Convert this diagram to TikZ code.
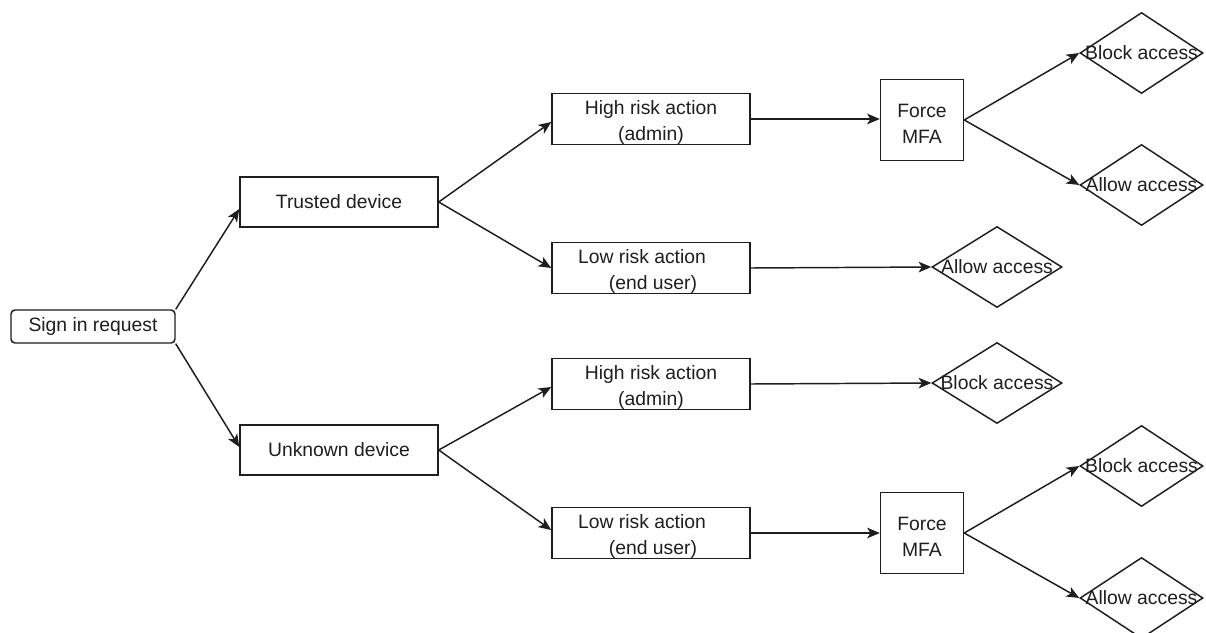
\documentclass[tikz,border=0pt]{standalone}
\usepackage{fontspec}
\setmainfont{Liberation Sans}
\usetikzlibrary{shapes.geometric,arrows.meta,calc}
\definecolor{ink}{HTML}{1E1E1E}
% taller first line so two-line labels sit a little lower in their boxes
\newcommand{\tallline}{\rule{0pt}{16pt}}

\begin{document}
\begin{tikzpicture}[x=0.75pt,y=-0.75pt,
  every node/.style={font=\fontsize{14.5}{19.5}\selectfont, text=ink, inner sep=0pt},
  box/.style={draw=ink, line width=1.1pt, minimum width=148.5pt, minimum height=37.5pt, align=center},
  startbox/.style={draw=ink, line width=1.1pt, rounded corners=3pt, minimum width=123pt, minimum height=24.75pt},
  mfabox/.style={draw=ink, line width=1.1pt, minimum width=62.25pt, minimum height=60.75pt, align=center},
  decision/.style={diamond, draw=ink, line width=1.1pt, minimum width=92.25pt, minimum height=60.75pt},
  widedecision/.style={decision, minimum width=97.5pt},
  flow/.style={draw=ink, line width=1.1pt, -{Stealth[length=9.5pt,width=8pt,inset=2.5pt]}}]

\fill[white] (0,0) rectangle (1206,632);
\clip (0,0) rectangle (1206,632);

% entry point and device branches
\node[startbox] (sign) at (93,326.5) {Sign in request};
\node[box] (trusted) at (339,202) {Trusted device};
\node[box] (unknown) at (339,450) {Unknown device};

% trusted device branch
\node[box] (hi1) at (651,119) {\tallline High risk action\\(admin)};
\node[box] (lo1) at (651,268) {\tallline\hspace*{-13.5pt}Low risk action\\\hspace*{3pt}(end user)};
\node[mfabox] (mfa1) at (922,120) {\tallline Force\\MFA};
\node[decision] (blk1) at (1141.5,53) {};
\node (blk1t) at (blk1) {Block access};
\node[decision] (alw1) at (1141.5,185) {};
\node (alw1t) at (alw1) {Allow access};
\node[widedecision] (alw2) at (997,267) {};
\node (alw2t) at (alw2) {Allow access};

% unknown device branch
\node[box] (hi2) at (651,384) {\tallline High risk action\\(admin)};
\node[box] (lo2) at (651,533) {\tallline\hspace*{-13.5pt}Low risk action\\\hspace*{3pt}(end user)};
\node[widedecision] (blk2) at (997,383) {};
\node (blk2t) at (blk2) {Block access};
\node[mfabox] (mfa2) at (922,533) {\tallline Force\\MFA};
\node[decision] (blk3) at (1141.5,466) {};
\node (blk3t) at (blk3) {Block access};
\node[decision] (alw3) at (1141.5,598) {};
\node (alw3t) at (alw3) {Allow access};

% connectors
\draw[flow] (sign.north east) -- ($(trusted.west)+(0,7)$);
\draw[flow] (sign.south east) -- ($(unknown.west)+(0,-3)$);

\draw[flow] (trusted.east) -- ($(hi1.west)+(0,3)$);
\draw[flow] (trusted.east) -- (lo1.west);
\draw[flow] (hi1.east) -- (mfa1.west |- hi1.east);
\draw[flow] (lo1.east) -- (alw2.west);
\draw[flow] (mfa1.east) -- (blk1.west);
\draw[flow] (mfa1.east) -- (alw1.west);

\draw[flow] (unknown.east) -- ($(hi2.west)+(0,3)$);
\draw[flow] (unknown.east) -- ($(lo2.west)+(0,-3)$);
\draw[flow] (hi2.east) -- (blk2.west);
\draw[flow] (lo2.east) -- (mfa2.west);
\draw[flow] (mfa2.east) -- (blk3.west);
\draw[flow] (mfa2.east) -- (alw3.west);
\end{tikzpicture}
\end{document}
